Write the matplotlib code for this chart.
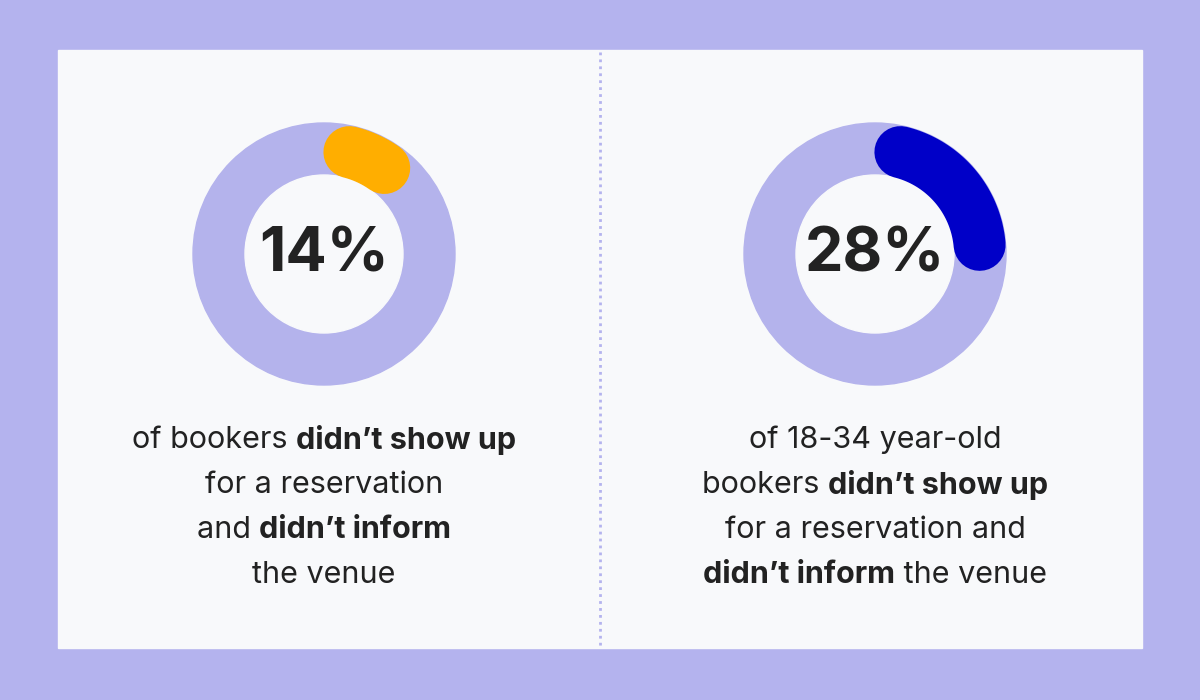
import matplotlib.pyplot as plt
import numpy as np

# values
percents = ["14%", "28%"]
arc_start = [14, 14]     # degrees clockwise from top
arc_end = [35, 85]
arc_colors = ["#FFAE00", "#0000C8"]
centers_x = [324, 875]
captions = [
    [[("of bookers ", False), ("didn\u2019t show up", True)],
     [("for a reservation", False)],
     [("and ", False), ("didn\u2019t inform", True)],
     [("the venue", False)]],
    [[("of 18-34 year-old", False)],
     [("bookers ", False), ("didn\u2019t show up", True)],
     [("for a reservation and", False)],
     [("didn\u2019t inform", True), (" the venue", False)]],
]

W, H = 1200, 700
fig = plt.figure(figsize=(12, 7), dpi=100)
fig.patch.set_facecolor("#B4B3EE")
ax = fig.add_axes([0, 0, 1, 1])
ax.set_xlim(0, W)
ax.set_ylim(H, 0)
ax.axis("off")

ax.add_patch(plt.Rectangle((58, 50), 1084, 598, color="#F8F9FB", zorder=0))
ax.plot([600, 600], [52, 646], color="#B4B3EE", lw=2, ls=(0, (1, 1.5)), zorder=1)

cy, R, r = 254, 131, 79
mid = (R + r) / 2
lw_pt = (R - r) * 72 / 100
for cx, pct, a0, a1, col in zip(centers_x, percents, arc_start, arc_end, arc_colors):
    ax.add_patch(plt.Circle((cx, cy), R, color="#B4B3EC", zorder=2))
    ax.add_patch(plt.Circle((cx, cy), r, color="#F8F9FB", zorder=3))
    t = np.radians(np.linspace(a0, a1, 100))
    ax.plot(cx + mid * np.sin(t), cy - mid * np.cos(t), color=col, lw=lw_pt,
            solid_capstyle="round", zorder=4)
    ax.text(cx, cy + 2, pct, fontsize=44, fontweight="bold", family="Inter",
            color="#222222", ha="center", va="center", zorder=5)

fig.canvas.draw()
renderer = fig.canvas.get_renderer()


def draw_line(cx, y, parts):
    texts = []
    for s, b in parts:
        tx = ax.text(0, y, s, fontsize=22, family="Inter", color="#222222",
                     fontweight="bold" if b else "normal", va="center", ha="left")
        texts.append(tx)
    widths = [tx.get_window_extent(renderer).width for tx in texts]
    x = cx - sum(widths) / 2
    for tx, w in zip(texts, widths):
        tx.set_x(x)
        x += w


line_y = [440, 485, 530, 575]
for cx, cap in zip(centers_x, captions):
    for y, parts in zip(line_y, cap):
        draw_line(cx, y, parts)

fig.savefig("out.png", dpi=100, facecolor=fig.get_facecolor())
